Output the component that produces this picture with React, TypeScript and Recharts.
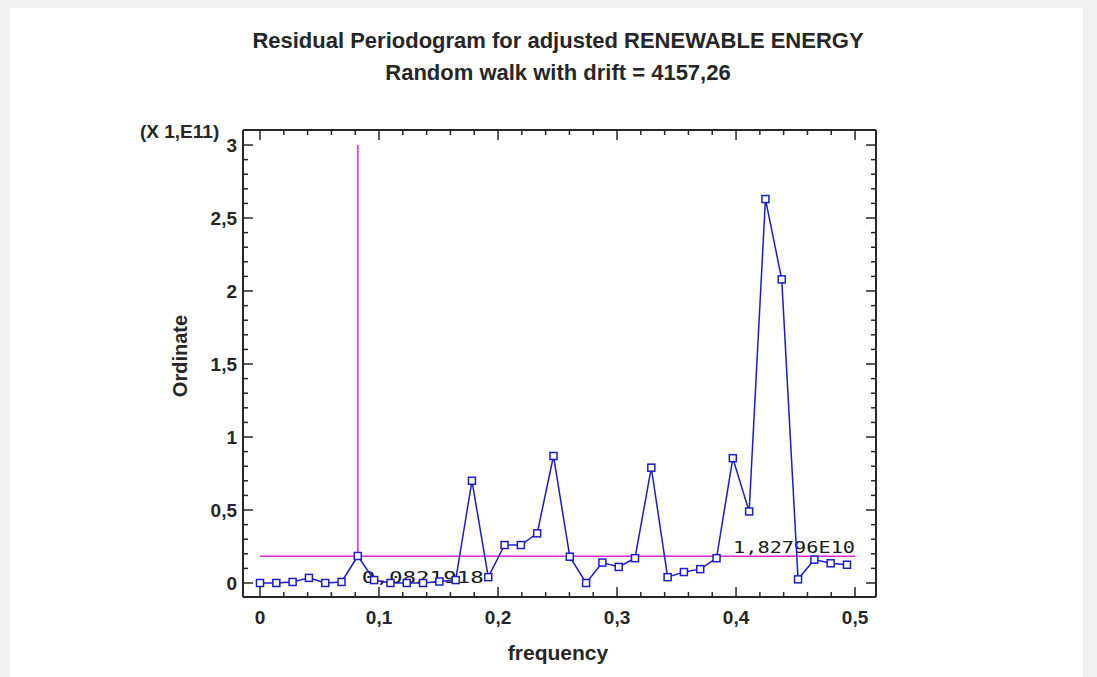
import React from 'react';
import { LineChart, Line, XAxis, YAxis, ReferenceLine } from 'recharts';

const FREQUENCY = [
  0, 0.0137, 0.0274, 0.0411, 0.0548, 0.0685, 0.0822, 0.0959, 0.1096, 0.1233,
  0.137, 0.1507, 0.1644, 0.1781, 0.1918, 0.2055, 0.2192, 0.2329, 0.2466, 0.2603,
  0.274, 0.2877, 0.3014, 0.3151, 0.3288, 0.3425, 0.3562, 0.3699, 0.3836, 0.3973,
  0.411, 0.4247, 0.4384, 0.4521, 0.4658, 0.4795, 0.4932,
];
// ordinate in units of 1E11
const ORDINATE = [
  0, 0, 0.007, 0.035, 0, 0.007, 0.185, 0.02, 0, 0,
  0, 0.01, 0.02, 0.7, 0.04, 0.26, 0.26, 0.34, 0.87, 0.18,
  0, 0.14, 0.11, 0.17, 0.79, 0.04, 0.075, 0.095, 0.17, 0.855,
  0.49, 2.63, 2.08, 0.025, 0.16, 0.135, 0.125,
];
const X_MAJOR = [0, 0.1, 0.2, 0.3, 0.4, 0.5];
const X_TICKS = [0, 0.02, 0.04, 0.06, 0.08, 0.1, 0.12, 0.14, 0.16, 0.18, 0.2, 0.22, 0.24, 0.26, 0.28, 0.3, 0.32, 0.34, 0.36, 0.38, 0.4, 0.42, 0.44, 0.46, 0.48, 0.5];
const Y_MAJOR = [0, 0.5, 1, 1.5, 2, 2.5, 3];
const Y_TICKS = [0, 0.1, 0.2, 0.3, 0.4, 0.5, 0.6, 0.7, 0.8, 0.9, 1, 1.1, 1.2, 1.3, 1.4, 1.5, 1.6, 1.7, 1.8, 1.9, 2, 2.1, 2.2, 2.3, 2.4, 2.5, 2.6, 2.7, 2.8, 2.9, 3];
const CUTOFF_FREQ = 0.0821918;
const CUTOFF_LEVEL = 0.182796;

const X_DOMAIN = [-0.0143, 0.5176];
const Y_DOMAIN = [-0.096, 3.103];

const data = FREQUENCY.map((f, i) => ({ f, v: ORDINATE[i] }));

const FONT = "'Liberation Sans Narrow', 'Arial Narrow', 'Liberation Sans', Arial, sans-serif";
const INK = '#262626';
const fmt = (v: number) => String(v).replace('.', ',');
const isMajor = (list: number[], v: number) => list.some((m) => Math.abs(m - v) < 1e-9);

function BottomTick(props: any) {
  const { x, y, payload } = props;
  const major = isMajor(X_MAJOR, payload.value);
  return (
    <g>
      <line x1={x} y1={y} x2={x} y2={y - (major ? 10 : 5)} stroke={INK} strokeWidth={1.5} />
      {major && (
        <text x={x} y={y + 27} textAnchor="middle" fontFamily={FONT} fontWeight="bold" fontSize={19} fill={INK}>
          {fmt(payload.value)}
        </text>
      )}
    </g>
  );
}

function TopTick(props: any) {
  const { x, y, payload } = props;
  const major = isMajor(X_MAJOR, payload.value);
  return <line x1={x} y1={y} x2={x} y2={y + (major ? 10 : 5)} stroke={INK} strokeWidth={1.5} />;
}

function LeftTick(props: any) {
  const { x, y, payload } = props;
  const major = isMajor(Y_MAJOR, payload.value);
  return (
    <g>
      <line x1={x} y1={y} x2={x + (major ? 10 : 5)} y2={y} stroke={INK} strokeWidth={1.5} />
      {major && (
        <text x={x - 6} y={y + 7} textAnchor="end" fontFamily={FONT} fontWeight="bold" fontSize={19} fill={INK}>
          {fmt(payload.value)}
        </text>
      )}
    </g>
  );
}

function RightTick(props: any) {
  const { x, y, payload } = props;
  const major = isMajor(Y_MAJOR, payload.value);
  return <line x1={x} y1={y} x2={x - (major ? 10 : 5)} y2={y} stroke={INK} strokeWidth={1.5} />;
}

function SquareDot(props: any) {
  const { cx, cy } = props;
  return <rect x={cx - 3.5} y={cy - 3.5} width={7} height={7} fill="white" stroke="#1c1cc8" strokeWidth={1.5} />;
}

const segLabel = (text: string, side: 'h' | 'v') => (props: any) => {
  const vb = props.viewBox || {};
  const x = side === 'h' ? vb.x + vb.width : vb.x + 4;
  const y = side === 'h' ? vb.y - 3 : vb.y + vb.height + 27;
  return (
    <text
      x={x}
      y={y}
      textAnchor={side === 'h' ? 'end' : 'start'}
      fontFamily="'DejaVu Sans Mono', monospace"
      fontSize={16}
      fill="#1a1a1a"
      textLength={122}
      lengthAdjust="spacingAndGlyphs"
    >
      {text}
    </text>
  );
};

const textStyle: React.CSSProperties = {
  position: 'absolute',
  fontFamily: FONT,
  fontWeight: 'bold',
  color: INK,
  whiteSpace: 'nowrap',
};

const axisCommon = {
  type: 'number' as const,
  allowDataOverflow: true,
  tickSize: 0,
  tickMargin: 0,
  tickLine: false,
  axisLine: { stroke: INK, strokeWidth: 2 },
  interval: 0 as const,
};

export default function App() {
  return (
    <div style={{ position: 'absolute', left: 0, top: 0, width: 1097, height: 677, background: '#f1f1f1' }}>
      <div style={{ position: 'absolute', left: 10, top: 8, width: 1073, height: 669, background: '#fff' }} />
      <div style={{ position: 'absolute', left: 0, top: 0 }}>
        <LineChart width={1097} height={677} data={data} margin={{ top: 129, right: 220, bottom: 40, left: 183 }}>
          <XAxis xAxisId="b" dataKey="f" domain={X_DOMAIN} ticks={X_TICKS} height={40} tick={<BottomTick />} {...axisCommon} />
          <XAxis xAxisId="t" orientation="top" dataKey="f" domain={X_DOMAIN} ticks={X_TICKS} height={1} tick={<TopTick />} {...axisCommon} />
          <YAxis yAxisId="l" domain={Y_DOMAIN} ticks={Y_TICKS} width={60} tick={<LeftTick />} {...axisCommon} />
          <YAxis yAxisId="r" orientation="right" domain={Y_DOMAIN} ticks={Y_TICKS} width={1} tick={<RightTick />} {...axisCommon} />
          <ReferenceLine
            xAxisId="b"
            yAxisId="l"
            segment={[{ x: 0, y: CUTOFF_LEVEL }, { x: 0.5, y: CUTOFF_LEVEL }]}
            stroke="#e02ad8"
            strokeWidth={1.5}
            label={segLabel('1,82796E10', 'h')}
          />
          <ReferenceLine
            xAxisId="b"
            yAxisId="l"
            segment={[{ x: CUTOFF_FREQ, y: CUTOFF_LEVEL }, { x: CUTOFF_FREQ, y: 3 }]}
            stroke="#e02ad8"
            strokeWidth={1.5}
            label={segLabel('0,0821918', 'v')}
          />
          {/* hidden series so the mirrored top/right frame axes get drawn */}
          <Line
            xAxisId="t"
            yAxisId="r"
            dataKey="v"
            stroke="none"
            dot={false}
            activeDot={false}
            legendType="none"
            isAnimationActive={false}
          />
          <Line
            xAxisId="b"
            yAxisId="l"
            dataKey="v"
            type="linear"
            stroke="#1c1cc8"
            strokeWidth={1.5}
            dot={<SquareDot />}
            activeDot={false}
            isAnimationActive={false}
          />
        </LineChart>
      </div>
      <div style={{ ...textStyle, left: 0, width: 1116, top: 28, textAlign: 'center', fontSize: 22 }}>
        Residual Periodogram for adjusted RENEWABLE ENERGY
      </div>
      <div style={{ ...textStyle, left: 0, width: 1116, top: 60, textAlign: 'center', fontSize: 22 }}>
        Random walk with drift = 4157,26
      </div>
      <div style={{ ...textStyle, left: 140, top: 121, fontSize: 19 }}>(X 1,E11)</div>
      <div
        style={{
          ...textStyle,
          left: 180,
          top: 356,
          fontSize: 20,
          transform: 'translate(-50%, -50%) rotate(-90deg)',
        }}
      >
        Ordinate
      </div>
      <div style={{ ...textStyle, left: 0, width: 1116, top: 641, textAlign: 'center', fontSize: 21 }}>
        frequency
      </div>
    </div>
  );
}
